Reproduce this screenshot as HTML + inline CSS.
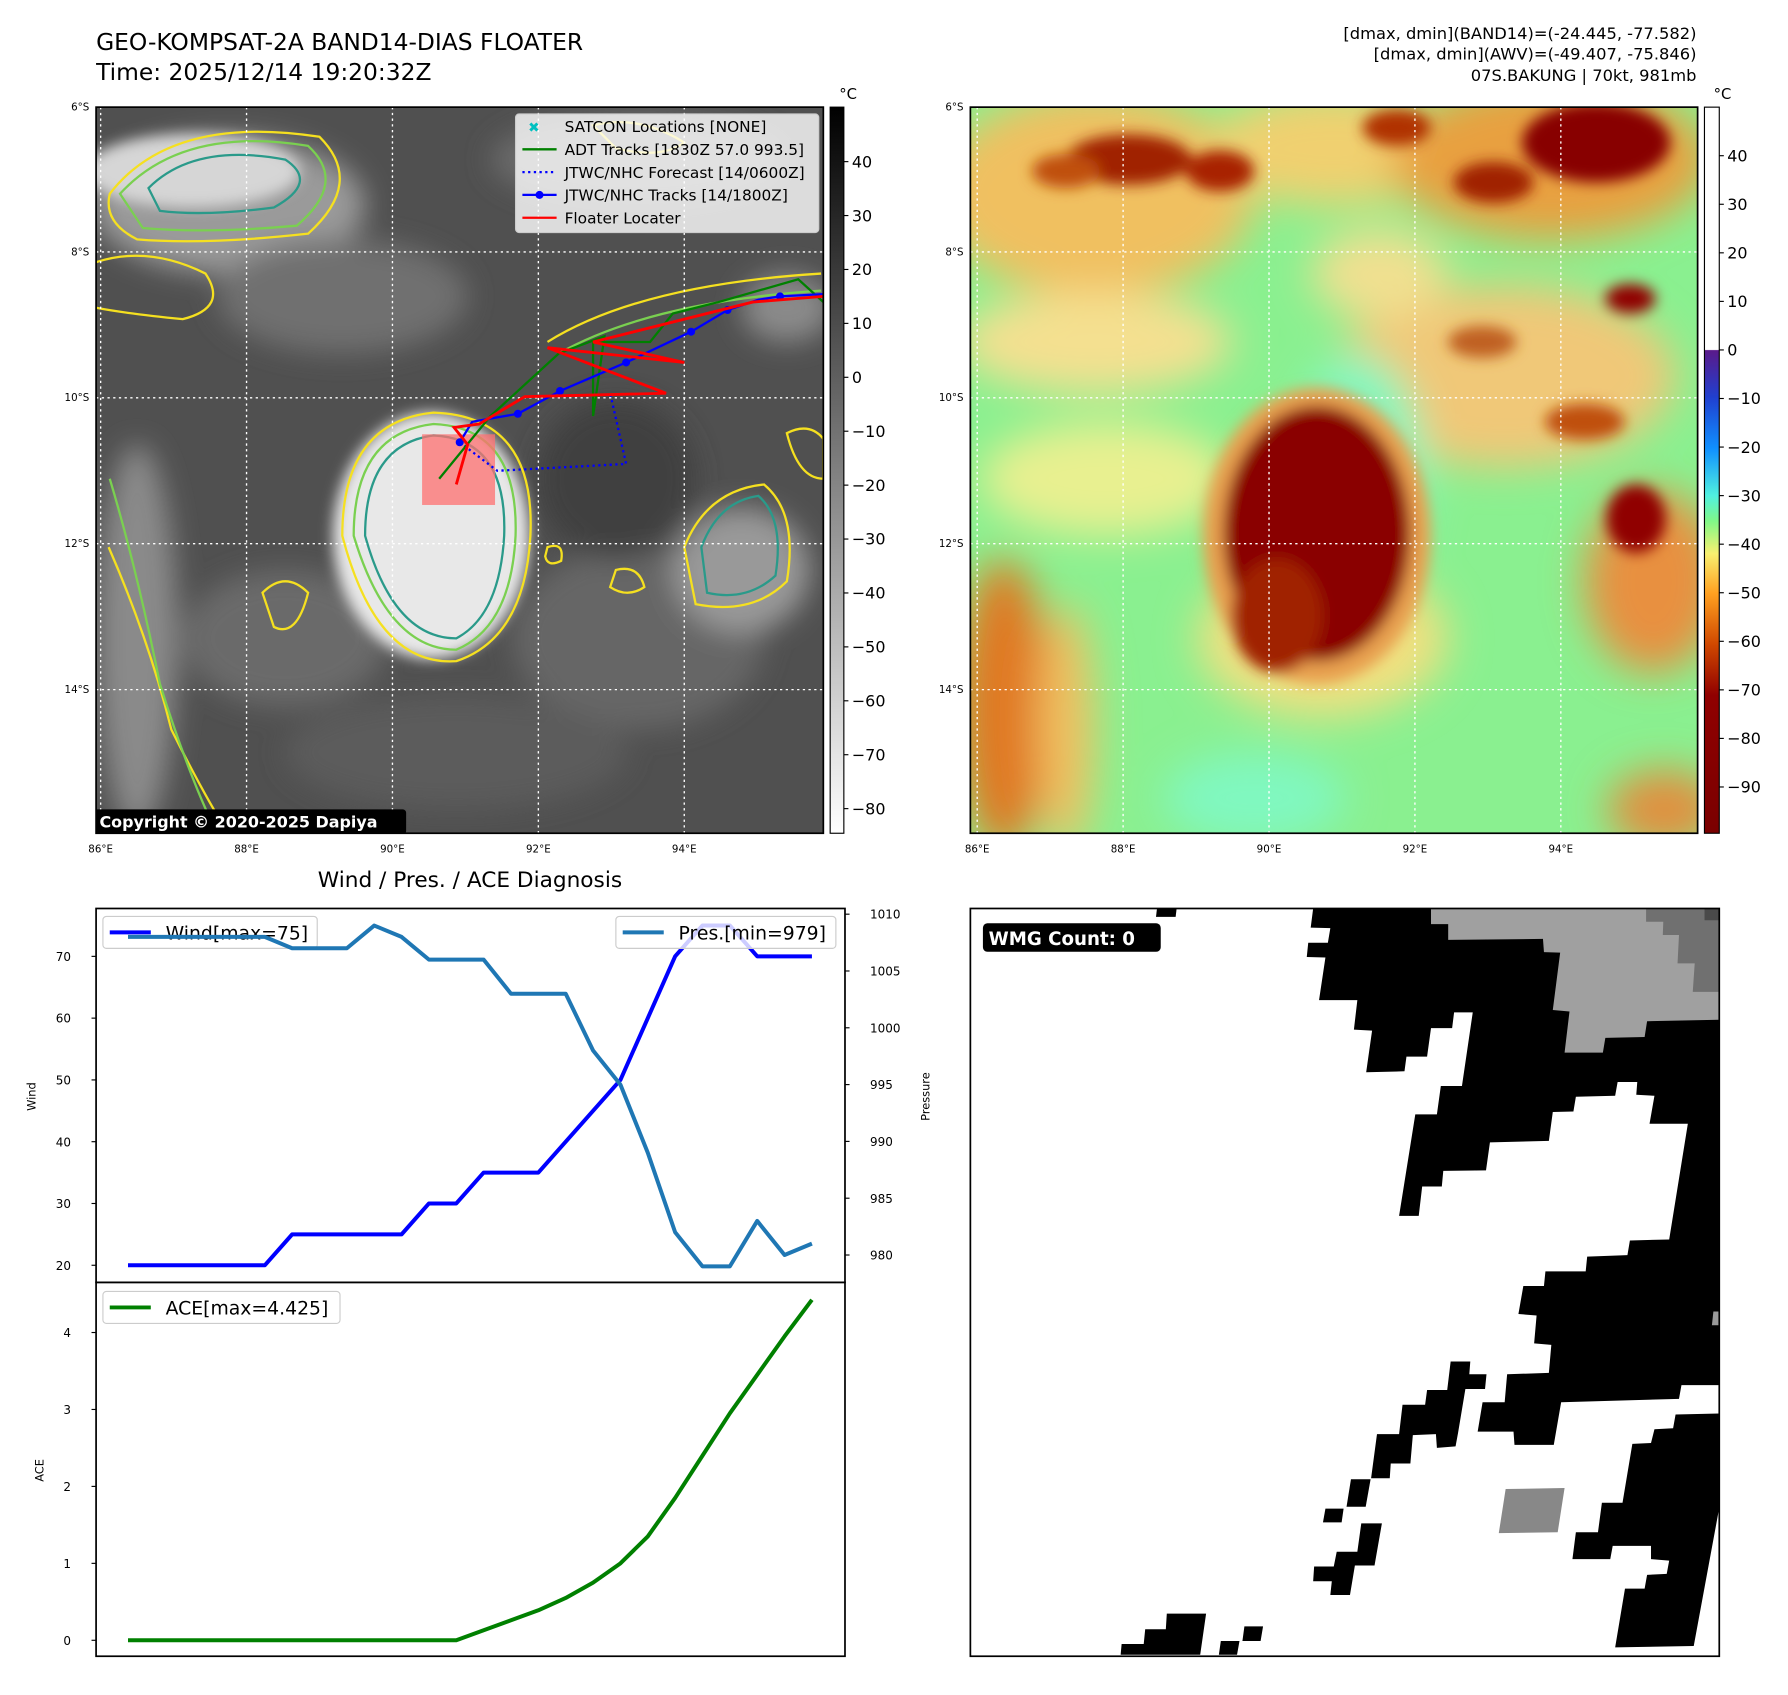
<!DOCTYPE html>
<html><head><meta charset="utf-8"><style>
html,body{margin:0;padding:0;background:#fff;}
svg{display:block;font-family:"DejaVu Sans","Liberation Sans",sans-serif;}
</style></head><body>
<svg id="root" width="1788" height="1695" viewBox="0 0 1568 1487" xmlns="http://www.w3.org/2000/svg">
<defs>
<filter id="b6" x="-50%" y="-50%" width="200%" height="200%"><feGaussianBlur stdDeviation="6"/></filter>
<filter id="b12" x="-50%" y="-50%" width="200%" height="200%"><feGaussianBlur stdDeviation="12"/></filter>
<filter id="b18" x="-50%" y="-50%" width="200%" height="200%"><feGaussianBlur stdDeviation="18"/></filter>
<clipPath id="c1"><rect x="84" y="94" width="638" height="637"/></clipPath>
<clipPath id="c2"><rect x="851" y="94" width="638" height="637"/></clipPath>
<linearGradient id="gbar" x1="0" y1="0" x2="0" y2="1"><stop offset="0" stop-color="#000"/><stop offset="1" stop-color="#fff"/></linearGradient>
<linearGradient id="cbar" x1="0" y1="0" x2="0" y2="1">
<stop offset="0" stop-color="#fff"/><stop offset="0.334" stop-color="#fff"/>
<stop offset="0.335" stop-color="#5a1a8a"/><stop offset="0.40" stop-color="#2040d0"/>
<stop offset="0.47" stop-color="#1090ff"/><stop offset="0.535" stop-color="#50f0e0"/>
<stop offset="0.57" stop-color="#80f888"/><stop offset="0.615" stop-color="#f8f070"/>
<stop offset="0.67" stop-color="#ffa020"/><stop offset="0.74" stop-color="#d04800"/>
<stop offset="0.81" stop-color="#900000"/><stop offset="1" stop-color="#7a0000"/>
</linearGradient>
</defs>

<text x="84" y="44" font-size="20.5">GEO-KOMPSAT-2A BAND14-DIAS FLOATER</text>
<text x="84" y="70" font-size="20.5">Time: 2025/12/14 19:20:32Z</text>
<g font-size="14.3" text-anchor="end">
<text x="1488" y="34">[dmax, dmin](BAND14)=(-24.445, -77.582)</text>
<text x="1488" y="52">[dmax, dmin](AWV)=(-49.407, -75.846)</text>
<text x="1488" y="71">07S.BAKUNG | 70kt, 981mb</text>
</g>

<!-- TOP LEFT MAP -->
<g clip-path="url(#c1)">
<rect x="84" y="94" width="638" height="637" fill="#505050"/>
<g filter="url(#b12)">
<ellipse cx="200" cy="180" rx="120" ry="60" fill="#9a9a9a"/>
<ellipse cx="300" cy="260" rx="110" ry="50" fill="#707070"/>
<ellipse cx="560" cy="140" rx="130" ry="40" fill="#6a6a6a"/>
<ellipse cx="250" cy="560" rx="90" ry="60" fill="#6a6a6a"/>
<ellipse cx="560" cy="560" rx="110" ry="80" fill="#666"/>
<ellipse cx="650" cy="500" rx="60" ry="55" fill="#999"/>
<ellipse cx="120" cy="560" rx="35" ry="170" fill="#8a8a8a"/>
<ellipse cx="540" cy="420" rx="70" ry="70" fill="#404040"/>
<ellipse cx="400" cy="660" rx="150" ry="50" fill="#5c5c5c"/>
<ellipse cx="690" cy="270" rx="40" ry="30" fill="#8a8a8a"/>
</g>
<ellipse cx="378" cy="470" rx="86" ry="108" fill="#e8e8e8" filter="url(#b6)"/>
<ellipse cx="168" cy="150" rx="95" ry="32" fill="#d6d6d6" filter="url(#b6)"/>
<path d="M300 470 Q300 370 380 362 Q470 365 465 470 Q460 560 400 580 Q330 585 300 470Z" fill="none" stroke="#f5e020" stroke-width="2"/>
<path d="M310 470 Q310 380 380 372 Q455 375 452 470 Q448 550 400 570 Q340 570 310 470Z" fill="none" stroke="#7ad050" stroke-width="2"/>
<path d="M320 470 Q320 390 380 382 Q445 385 442 470 Q438 540 400 560 Q345 560 320 470Z" fill="none" stroke="#2a9a8a" stroke-width="2"/>
<path d="M96 170 Q150 100 280 120 Q320 160 270 205 Q180 215 120 210 Q90 195 96 170Z" fill="none" stroke="#f5e020" stroke-width="2"/>
<path d="M105 170 Q160 110 270 128 Q305 160 260 198 Q180 205 125 200Z" fill="none" stroke="#7ad050" stroke-width="2"/>
<path d="M130 165 Q170 125 250 140 Q280 160 240 182 Q180 190 140 185Z" fill="none" stroke="#2a9a8a" stroke-width="2"/>
<path d="M95 480 Q130 560 150 640 Q180 700 200 731" fill="none" stroke="#f5e020" stroke-width="2"/>
<path d="M96 420 Q120 500 140 600 Q165 680 190 731" fill="none" stroke="#7ad050" stroke-width="2"/>
<path d="M600 480 Q620 430 670 425 Q700 450 690 510 Q660 540 610 530Z" fill="none" stroke="#f5e020" stroke-width="2"/>
<path d="M615 480 Q630 440 665 435 Q688 455 680 505 Q655 528 620 520Z" fill="none" stroke="#2a9a8a" stroke-width="2"/>
<path d="M480 300 Q560 250 720 240" fill="none" stroke="#f5e020" stroke-width="2"/>
<path d="M490 310 Q570 265 720 255" fill="none" stroke="#7ad050" stroke-width="2"/>
<path d="M540 500 Q560 495 565 515 Q550 525 535 515Z" fill="none" stroke="#f5e020" stroke-width="2"/>
<path d="M84 230 Q130 215 180 240 Q200 270 160 280 Q110 275 84 270" fill="none" stroke="#f5e020" stroke-width="2"/>
<path d="M230 520 Q250 500 270 520 Q260 560 240 550Z" fill="none" stroke="#f5e020" stroke-width="2"/>
<path d="M480 480 Q495 475 492 492 Q480 498 478 488Z" fill="none" stroke="#f5e020" stroke-width="2"/>
<path d="M690 380 Q710 370 722 385 L722 420 Q700 420 690 380Z" fill="none" stroke="#f5e020" stroke-width="2"/>
<path d="M520 110 Q560 100 600 125 Q580 140 540 130Z" fill="none" stroke="#f5e020" stroke-width="2"/>
<g stroke="#fff" stroke-width="1.2" stroke-dasharray="2,3">
<line x1="84" y1="221" x2="722" y2="221"/><line x1="84" y1="349" x2="722" y2="349"/><line x1="84" y1="477" x2="722" y2="477"/><line x1="84" y1="605" x2="722" y2="605"/>
<line x1="88" y1="94" x2="88" y2="731"/><line x1="216" y1="94" x2="216" y2="731"/><line x1="344" y1="94" x2="344" y2="731"/><line x1="472" y1="94" x2="472" y2="731"/><line x1="600" y1="94" x2="600" y2="731"/>
</g>
<rect x="370" y="381" width="64" height="62" fill="#ff7070" opacity="0.75"/>
<polyline points="403,388 436,413 549,407 535,345" fill="none" stroke="#0000ff" stroke-width="2" stroke-dasharray="2,3"/>
<polyline points="385,420 430,365 490,310 530,295 520,365 520,300 570,300 590,275 630,265 700,245 722,265" fill="none" stroke="#008000" stroke-width="2"/>
<polyline points="403,388 414,370 454,363 491,343 549,318 606,291 638,272 665,263 684,260 722,258" fill="none" stroke="#0000ff" stroke-width="2"/>
<g fill="#0000ff"><circle cx="403" cy="388" r="3.5"/><circle cx="454" cy="363" r="3.5"/><circle cx="491" cy="343" r="3.5"/><circle cx="549" cy="318" r="3.5"/><circle cx="606" cy="291" r="3.5"/><circle cx="638" cy="272" r="3.5"/><circle cx="684" cy="260" r="3.5"/></g>
<polyline points="400,425 410,390 398,375 420,372 460,348 584,345 480,305 600,318 520,300 660,265 722,260" fill="none" stroke="#ff0000" stroke-width="2.5"/>
<rect x="82" y="710" width="274" height="22" fill="#000" rx="3"/>
<text x="87" y="726" font-size="14" font-weight="bold" fill="#fff">Copyright © 2020-2025 Dapiya</text>
</g>
<rect x="84" y="94" width="638" height="637" fill="none" stroke="#000" stroke-width="1.5"/>
<g>
<rect x="452" y="100" width="266" height="104" fill="#fff" fill-opacity="0.8" stroke="#ccc" rx="3"/>
<g font-size="13.5">
<text x="468" y="116" fill="#00c0c0" font-size="12" text-anchor="middle">✖</text><text x="495" y="116">SATCON Locations [NONE]</text>
<line x1="458" y1="131" x2="488" y2="131" stroke="#008000" stroke-width="2"/><text x="495" y="136">ADT Tracks [1830Z 57.0 993.5]</text>
<line x1="458" y1="151" x2="488" y2="151" stroke="#0000ff" stroke-width="2" stroke-dasharray="2,3"/><text x="495" y="156">JTWC/NHC Forecast [14/0600Z]</text>
<line x1="458" y1="171" x2="488" y2="171" stroke="#0000ff" stroke-width="2"/><circle cx="473" cy="171" r="3.5" fill="#0000ff"/><text x="495" y="176">JTWC/NHC Tracks [14/1800Z]</text>
<line x1="458" y1="191" x2="488" y2="191" stroke="#ff0000" stroke-width="2"/><text x="495" y="196">Floater Locater</text>
</g></g>
<g font-size="9" text-anchor="end">
<text x="78" y="97">6°S</text><text x="78" y="224">8°S</text><text x="78" y="352">10°S</text><text x="78" y="480">12°S</text><text x="78" y="608">14°S</text></g>
<g font-size="9" text-anchor="middle">
<text x="88" y="748">86°E</text><text x="216" y="748">88°E</text><text x="344" y="748">90°E</text><text x="472" y="748">92°E</text><text x="600" y="748">94°E</text></g>
<rect x="728" y="94" width="12" height="637" fill="url(#gbar)" stroke="#000" stroke-width="1"/>
<text x="736" y="87" font-size="13">°C</text>
<g id="cb1" font-size="14"></g>

<!-- TOP RIGHT MAP -->
<g clip-path="url(#c2)">
<rect x="851" y="94" width="638" height="637" fill="#8af090"/>
<g filter="url(#b18)">
<ellipse cx="960" cy="170" rx="140" ry="90" fill="#f0c060"/>
<ellipse cx="1170" cy="130" rx="110" ry="50" fill="#f0d070"/>
<ellipse cx="1360" cy="140" rx="140" ry="70" fill="#e8a040"/>
<ellipse cx="960" cy="300" rx="120" ry="45" fill="#f4e090"/>
<ellipse cx="1320" cy="330" rx="150" ry="80" fill="#f0c878"/>
<ellipse cx="1210" cy="240" rx="60" ry="40" fill="#f0e090"/>
<ellipse cx="970" cy="420" rx="110" ry="50" fill="#e8f090"/>
<ellipse cx="880" cy="620" rx="40" ry="130" fill="#e07820"/>
<ellipse cx="935" cy="640" rx="25" ry="110" fill="#f0c060"/>
<ellipse cx="1450" cy="510" rx="60" ry="80" fill="#e89040"/>
<ellipse cx="1460" cy="710" rx="50" ry="35" fill="#e09040"/>
<ellipse cx="1160" cy="560" rx="110" ry="70" fill="#f0e080"/>
<ellipse cx="1190" cy="420" rx="60" ry="110" fill="#80f8c0"/>
<ellipse cx="1100" cy="700" rx="80" ry="40" fill="#80f8c0"/>
</g>
<g filter="url(#b6)">
<ellipse cx="990" cy="140" rx="55" ry="22" fill="#a02000"/>
<ellipse cx="935" cy="150" rx="30" ry="15" fill="#c05010"/>
<ellipse cx="1070" cy="150" rx="30" ry="18" fill="#a82000"/>
<ellipse cx="1225" cy="112" rx="30" ry="16" fill="#b03000"/>
<ellipse cx="1400" cy="125" rx="65" ry="35" fill="#880000"/>
<ellipse cx="1310" cy="160" rx="35" ry="18" fill="#a02000"/>
<ellipse cx="1430" cy="262" rx="22" ry="13" fill="#900000"/>
<ellipse cx="1435" cy="455" rx="26" ry="30" fill="#900000"/>
<ellipse cx="1390" cy="370" rx="35" ry="16" fill="#c05010"/>
<ellipse cx="1300" cy="300" rx="30" ry="14" fill="#c06020"/>
<ellipse cx="1155" cy="470" rx="100" ry="130" fill="#e8a050"/>
<ellipse cx="1155" cy="468" rx="82" ry="112" fill="#8a0000"/>
<ellipse cx="1120" cy="540" rx="40" ry="50" fill="#a02000"/>
</g>
<g stroke="#fff" stroke-width="1.2" stroke-dasharray="2,3">
<line x1="851" y1="221" x2="1489" y2="221"/><line x1="851" y1="349" x2="1489" y2="349"/><line x1="851" y1="477" x2="1489" y2="477"/><line x1="851" y1="605" x2="1489" y2="605"/>
<line x1="857" y1="94" x2="857" y2="731"/><line x1="985" y1="94" x2="985" y2="731"/><line x1="1113" y1="94" x2="1113" y2="731"/><line x1="1241" y1="94" x2="1241" y2="731"/><line x1="1369" y1="94" x2="1369" y2="731"/>
</g>
</g>
<rect x="851" y="94" width="638" height="637" fill="none" stroke="#000" stroke-width="1.5"/>
<g font-size="9" text-anchor="end">
<text x="845" y="97">6°S</text><text x="845" y="224">8°S</text><text x="845" y="352">10°S</text><text x="845" y="480">12°S</text><text x="845" y="608">14°S</text></g>
<g font-size="9" text-anchor="middle">
<text x="857" y="748">86°E</text><text x="985" y="748">88°E</text><text x="1113" y="748">90°E</text><text x="1241" y="748">92°E</text><text x="1369" y="748">94°E</text></g>
<rect x="1495" y="94" width="13" height="637" fill="url(#cbar)" stroke="#000" stroke-width="1"/>
<text x="1503" y="87" font-size="13">°C</text>
<g id="cb2" font-size="14"></g>

<text x="412" y="778" font-size="19" text-anchor="middle">Wind / Pres. / ACE Diagnosis</text>
<g id="chart"></g>

<svg x="851" y="797" width="657" height="656" viewBox="12 18 1525 1525" preserveAspectRatio="none">
<rect x="12" y="18" width="1525" height="1525" fill="#fff"/>
<g fill="#000">
<polygon points="710,18 1537,18 1537,990 1460,990 1455,1018 1215,1025 1200,1112 1120,1112 1118,1085 1045,1085 1055,1025 1100,1025 1105,968 1190,965 1195,908 1160,905 1165,848 1128,845 1138,788 1180,788 1183,758 1265,758 1268,728 1350,725 1355,695 1435,693 1473,457 1395,457 1405,400 1368,398 1370,372 1330,372 1325,400 1245,402 1240,432 1198,433 1190,492 1070,495 1062,552 975,553 972,585 932,585 925,645 885,645 918,438 962,438 970,380 1013,380 1035,230 997,230 993,262 950,262 942,320 900,320 896,350 818,352 830,267 793,265 800,205 722,205 735,118 697,117 700,88 740,88 745,58 705,57"/>
<polygon points="1537,1048 1448,1050 1443,1078 1405,1080 1398,1108 1360,1110 1340,1230 1298,1230 1290,1290 1245,1290 1238,1345 1315,1345 1320,1318 1398,1318 1398,1345 1435,1348 1430,1375 1390,1377 1385,1405 1345,1405 1325,1525 1485,1522 1537,1240"/>
<polygon points="990,942 1030,942 1028,968 1063,968 1060,998 1020,998 1005,1088 1000,1115 962,1118 960,1090 913,1092 908,1150 868,1150 866,1180 828,1180 840,1090 885,1090 892,1030 938,1030 942,1000 983,1000"/>
<polygon points="787,1182 827,1182 817,1238 778,1238"/>
<polygon points="735,1242 772,1242 768,1270 730,1270"/>
<polygon points="808,1272 850,1272 835,1358 795,1358 785,1418 745,1418 748,1390 710,1390 712,1360 752,1360 758,1330 800,1330"/>
<polygon points="412,1456 492,1456 480,1540 318,1540 320,1518 365,1518 368,1488 410,1488"/>
<polygon points="570,1482 608,1482 603,1512 560,1512 555,1540 518,1540 522,1512 566,1512"/>
<polygon points="392,18 432,18 430,35 390,35"/>
</g>
<polygon points="950,18 1537,18 1537,245 1390,248 1385,280 1305,282 1300,312 1222,312 1232,228 1198,225 1213,108 1180,107 1178,80 985,82 985,50 950,50" fill="#a0a0a0"/>
<polygon points="1388,18 1537,18 1537,188 1483,188 1487,130 1452,130 1455,72 1422,72 1423,45 1388,45" fill="#707070"/>
<polygon points="1507,18 1537,18 1537,42 1507,42" fill="#4a4a4a"/>
<polygon points="1102,1202 1222,1200 1208,1290 1088,1292" fill="#888"/>
<polygon points="1525,840 1537,840 1537,868 1522,868" fill="#999"/>
</svg>
<rect x="851" y="797" width="657" height="656" fill="none" stroke="#000" stroke-width="1.5"/>
<rect x="862" y="810" width="156" height="25" rx="4" fill="#000"/>
<text x="867" y="829" font-size="16" font-weight="bold" fill="#fff">WMG Count: 0</text>
</svg>

<script>
const NS = "http://www.w3.org/2000/svg";
const windValues = [20,20,20,20,20,20,25,25,25,25,25,30,30,35,35,35,40,45,50,60,70,75,75,70,70,70];
const pressureValues = [1008,1008,1008,1008,1008,1008,1007,1007,1007,1009,1008,1006,1006,1006,1003,1003,1003,998,995,989,982,979,979,983,980,981];
const aceValues = [0,0,0,0,0,0,0,0,0,0,0,0,0,0.13,0.26,0.39,0.55,0.75,1.0,1.35,1.85,2.4,2.95,3.45,3.95,4.425];
const windTicks = [20,30,40,50,60,70];
const pressureTicks = [980,985,990,995,1000,1005,1010];
const aceTicks = [0,1,2,3,4];
const irBarTicks = [40,30,20,10,0,-10,-20,-30,-40,-50,-60,-70,-80];
const awvBarTicks = [40,30,20,10,0,-10,-20,-30,-40,-50,-60,-70,-80,-90];

function mk(tag, attrs, parent){const e=document.createElementNS(NS,tag);for(const k in attrs)e.setAttribute(k,attrs[k]);parent.appendChild(e);return e;}
const chart=document.getElementById('chart');
const X0=84,X1=741,T1=797,B1=1125,T2=1125,B2=1453;
const n=windValues.length;
const xs=i=>112+i*(712-112)/(n-1);
const yWind=v=>1110-(v-20)*(1110-839)/50;
const yPres=v=>1101-(v-980)*(1101-802)/30;
const yAce=v=>1439-v*(1439-1169)/4;

let f1=mk('rect',{x:X0,y:T1,width:X1-X0,height:B1-T1,fill:'none',stroke:'#000','stroke-width':1.5},chart);


let f2=mk('rect',{x:X0,y:T2,width:X1-X0,height:B2-T2,fill:'none',stroke:'#000','stroke-width':1.5},chart);



windTicks.forEach(v=>{const y=yWind(v);
 mk('line',{x1:X0-4,y1:y,x2:X0,y2:y,stroke:'#000'},chart);
 const t=mk('text',{x:X0-22,y:y+4,'font-size':10.5,'text-anchor':'end'},chart);t.textContent=v;
 
 });
pressureTicks.forEach(v=>{const y=yPres(v);
 mk('line',{x1:X1,y1:y,x2:X1+4,y2:y,stroke:'#000'},chart);
 const t=mk('text',{x:X1+22,y:y+4,'font-size':10.5},chart);t.textContent=v;
 
 });
aceTicks.forEach(v=>{const y=yAce(v);
 mk('line',{x1:X0-4,y1:y,x2:X0,y2:y,stroke:'#000'},chart);
 const t=mk('text',{x:X0-22,y:y+4,'font-size':10.5,'text-anchor':'end'},chart);t.textContent=v;
 
 });
let yl=mk('text',{x:0,y:0,'font-size':10,'text-anchor':'middle',transform:'translate(31,962) rotate(-90)'},chart);yl.textContent='Wind';


let pl=mk('text',{x:0,y:0,'font-size':10,'text-anchor':'middle',transform:'translate(815,962) rotate(-90)'},chart);pl.textContent='Pressure';


let al=mk('text',{x:0,y:0,'font-size':10,'text-anchor':'middle',transform:'translate(38,1290) rotate(-90)'},chart);al.textContent='ACE';



const wl=mk('polyline',{points:windValues.map((v,i)=>xs(i)+','+yWind(v)).join(' '),fill:'none',stroke:'#0000ff','stroke-width':3.5,'stroke-linejoin':'round'},chart);


const pls=mk('polyline',{points:pressureValues.map((v,i)=>xs(i)+','+yPres(v)).join(' '),fill:'none',stroke:'#1f77b4','stroke-width':3.5,'stroke-linejoin':'round'},chart);


const acl=mk('polyline',{points:aceValues.map((v,i)=>xs(i)+','+yAce(v)).join(' '),fill:'none',stroke:'#008000','stroke-width':3.5,'stroke-linejoin':'round'},chart);



function legend(x,y,w,color,label,name){
 const g=mk('g',{},chart);
 
 
 mk('rect',{x:x,y:y,width:w,height:28,fill:'#fff','fill-opacity':0.8,stroke:'#ccc',rx:3},g);
 mk('line',{x1:x+6,y1:y+14,x2:x+42,y2:y+14,stroke:color,'stroke-width':3.5},g);
 const t=mk('text',{x:x+55,y:y+20,'font-size':16.5},g);t.textContent=label;
}
legend(90,804,188,'#0000ff','Wind[max=75]','wind-legend');
legend(540,804,193,'#1f77b4','Pres.[min=979]','pressure-legend');
legend(90,1133,208,'#008000','ACE[max=4.425]','ace-legend');
chart.appendChild(pls);

const cb1=document.getElementById('cb1');
irBarTicks.forEach(v=>{const y=331-v*4.73;
 mk('line',{x1:740,y1:y,x2:744,y2:y,stroke:'#000'},cb1);
 const t=mk('text',{x:747,y:y+5},cb1);t.textContent=(v<0?'\u2212':'')+Math.abs(v);
 
 });
const cb2=document.getElementById('cb2');
awvBarTicks.forEach(v=>{const y=307-v*4.26;
 mk('line',{x1:1508,y1:y,x2:1512,y2:y,stroke:'#000'},cb2);
 const t=mk('text',{x:1515,y:y+5},cb2);t.textContent=(v<0?'\u2212':'')+Math.abs(v);
 
 });
</script>
</body></html>
